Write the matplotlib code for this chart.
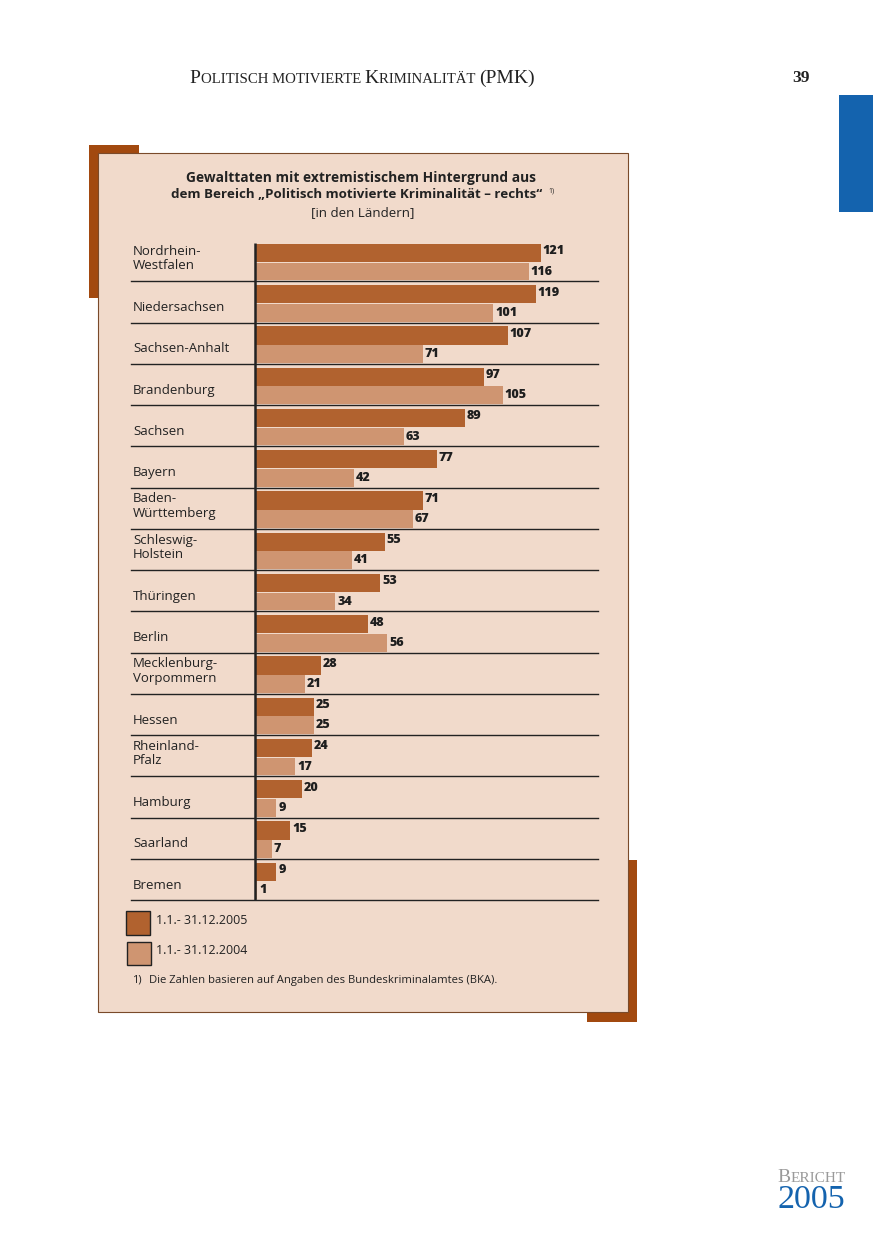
import matplotlib
matplotlib.use("Agg")
import matplotlib.pyplot as plt
from matplotlib.patches import Rectangle
from matplotlib.offsetbox import TextArea, HPacker, AnnotationBbox

# ---------------- data ----------------
laender = ["Nordrhein-\nWestfalen", "Niedersachsen", "Sachsen-Anhalt", "Brandenburg",
           "Sachsen", "Bayern", "Baden-\nWürttemberg", "Schleswig-\nHolstein",
           "Thüringen", "Berlin", "Mecklenburg-\nVorpommern", "Hessen",
           "Rheinland-\nPfalz", "Hamburg", "Saarland", "Bremen"]
werte_2005 = [121, 119, 107, 97, 89, 77, 71, 55, 53, 48, 28, 25, 24, 20, 15, 9]
werte_2004 = [116, 101, 71, 105, 63, 42, 67, 41, 34, 56, 21, 25, 17, 9, 7, 1]
legend_labels = ["1.1.- 31.12.2005", "1.1.- 31.12.2004"]

# ---------------- styles ----------------
W, H = 877, 1241
C_DARK = "#b1622f"
C_LIGHT = "#cf9571"
C_PANEL = "#f1dacb"
C_DECO = "#a2490f"
C_BLUE = "#1463ae"
SANS = ["Open Sans", "DejaVu Sans"]
SERIF = ["Liberation Serif", "DejaVu Serif"]

fig = plt.figure(figsize=(W / 100, H / 100), dpi=100)
fig.patch.set_facecolor("white")


def fx(x):
    return x / W


def fy(y):
    return 1 - y / H


def rect_px(x0, y0, x1, y1, **kw):
    r = Rectangle((fx(x0), fy(y1)), fx(x1) - fx(x0), fy(y0) - fy(y1),
                  transform=fig.transFigure, **kw)
    fig.patches.append(r)
    return r


# decorative background blocks
rect_px(89, 145, 139, 298, facecolor=C_DECO, edgecolor="none", zorder=1)
rect_px(587, 860, 637, 1022, facecolor=C_DECO, edgecolor="none", zorder=1)
# panel
rect_px(98, 153, 628, 1012, facecolor=C_PANEL, edgecolor="#7a4a2a", linewidth=0.8, zorder=2)
# blue tab
rect_px(839, 95, 873, 212, facecolor=C_BLUE, edgecolor="none", zorder=2)


def small_caps(parts, big=11.5, small=8.6, color="#222222"):
    kids = []
    for txt, is_big in parts:
        kids.append(TextArea(txt, textprops=dict(size=big if is_big else small,
                                                 family=SERIF, color=color)))
    return HPacker(children=kids, align="baseline", pad=0, sep=0)


hdr = small_caps([("P", True), ("OLITISCH MOTIVIERTE ", False), ("K", True),
                  ("RIMINALITÄT ", False), ("(PMK)", True)], big=14, small=10.6)
ab = AnnotationBbox(hdr, (fx(362), fy(78)), xycoords="figure fraction",
                    frameon=False, box_alignment=(0.5, 0.5), zorder=5)
fig.add_artist(ab)
fig.text(fx(801), fy(78), "39", family=SERIF, weight="bold", size=12.5,
         ha="center", va="center", color="#222222")

# BERICHT 2005
ber = small_caps([("B", True), ("ERICHT", False)], big=14, small=11, color="#9a9a9a")
ab2 = AnnotationBbox(ber, (fx(812), fy(1178)), xycoords="figure fraction",
                     frameon=False, box_alignment=(0.5, 0.5), zorder=5)
fig.add_artist(ab2)
fig.text(fx(811), fy(1200), "2005", family=SERIF, size=24.5, ha="center",
         va="center", color=C_BLUE)

# title
fig.text(fx(361), fy(178), "Gewalttaten mit extremistischem Hintergrund aus",
         family=SANS, weight="bold", size=9.9, ha="center", va="center", color="#222222", zorder=5)
fig.text(fx(357), fy(195), "dem Bereich „Politisch motivierte Kriminalität – rechts“",
         family=SANS, weight="bold", size=9.6, ha="center", va="center", color="#222222", zorder=5)
fig.text(fx(548), fy(191), "1)", family=SANS, size=5, ha="left", va="center",
         color="#222222", zorder=5)
fig.text(fx(363), fy(213), "[in den Ländern]", family=SANS, size=9.6, ha="center",
         va="center", color="#222222", zorder=5)

# ---------------- chart axes ----------------
PX_PER_UNIT = 2.36
x_left_px, x_right_px, x0_px = 131, 598, 255
y_top_px, y_bot_px = 240, 900
ax = fig.add_axes([fx(x_left_px), fy(y_bot_px), fx(x_right_px) - fx(x_left_px),
                   fy(y_top_px) - fy(y_bot_px)])
ax.set_zorder(4)
ax.patch.set_visible(False)
for s in ax.spines.values():
    s.set_visible(False)
ax.set_xticks([])
ax.set_yticks([])
xmin = -(x0_px - x_left_px) / PX_PER_UNIT
xmax = (x_right_px - x0_px) / PX_PER_UNIT
ax.set_xlim(xmin, xmax)
n = len(laender)
ax.set_ylim(n, 0)

ys = list(range(n))
y_dark = [y + 0.315 for y in ys]
y_light = [y + 0.765 for y in ys]
ax.barh(y_dark, werte_2005, height=0.44, color=C_DARK, zorder=3)
ax.barh(y_light, werte_2004, height=0.43, color=C_LIGHT, zorder=3)

for yv, v in zip(y_dark, werte_2005):
    ax.text(v + 0.8, yv - 0.04, str(v), size=9, weight="heavy", family=SANS,
            ha="left", va="center", color="#1e1e1e", zorder=5)
for yv, v in zip(y_light, werte_2004):
    ax.text(v + 0.8, yv + 0.0, str(v), size=9, weight="heavy", family=SANS,
            ha="left", va="center", color="#1e1e1e", zorder=5)

# separator lines
for y in ys:
    ax.plot([xmin, xmax], [y + 1, y + 1], color="#222222", linewidth=1.0,
            zorder=2, clip_on=False)
# vertical axis line
ax.plot([0, 0], [0.07, n], color="#222222", linewidth=1.8, zorder=4,
        solid_capstyle="butt", clip_on=False)

# category labels
lab_x = xmin + (133 - x_left_px) / PX_PER_UNIT
for y, lab in zip(ys, laender):
    off = 0.45 if "\n" in lab else 0.64
    ax.text(lab_x, y + off, lab, size=9.5, family=SANS, ha="left", va="center",
            color="#222222", linespacing=1.12, zorder=5)

# legend
rect_px(126, 911, 150, 935, facecolor=C_DARK, edgecolor="#222222", linewidth=1.0, zorder=5)
rect_px(127, 942, 151, 965, facecolor=C_LIGHT, edgecolor="#222222", linewidth=1.0, zorder=5)
fig.text(fx(156), fy(921), legend_labels[0], family=SANS, size=8.9, ha="left",
         va="center", color="#222222", zorder=6)
fig.text(fx(156), fy(951), legend_labels[1], family=SANS, size=8.9, ha="left",
         va="center", color="#222222", zorder=6)
fig.text(fx(132), fy(980), "1)", family=SANS, size=8, ha="left", va="center",
         color="#222222", zorder=6)
fig.text(fx(149), fy(980), "Die Zahlen basieren auf Angaben des Bundeskriminalamtes (BKA).",
         family=SANS, size=8.1, ha="left", va="center", color="#222222", zorder=6)

fig.savefig("out.png", dpi=100, facecolor="white")
